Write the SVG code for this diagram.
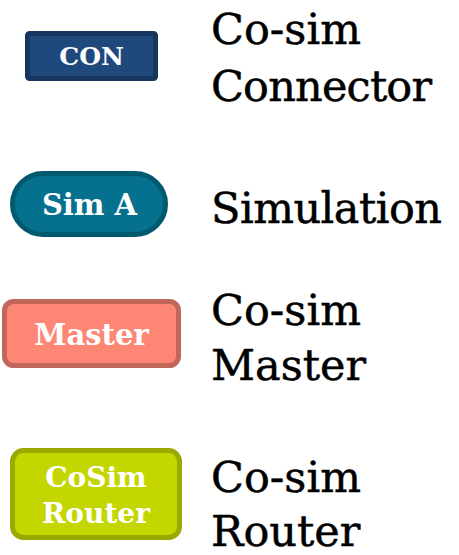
<svg xmlns="http://www.w3.org/2000/svg" width="459" height="555" viewBox="0 0 459 555">
<style>
.nt{font-family:"DejaVu Serif","Liberation Serif",serif;font-weight:bold;fill:#ffffff;text-anchor:middle}
.lb{font-family:"DejaVu Serif","Liberation Serif",serif;font-size:43px;fill:#000000;stroke:#000000;stroke-width:0.5}
</style>
<rect width="459" height="555" fill="#ffffff"/>
<g id="con">
<rect x="27.5" y="33.5" width="128" height="45" rx="2" fill="#1f497d" stroke="#17365d" stroke-width="5"/>
<text class="nt" x="91.5" y="65" font-size="25">CON</text>
</g>
<g id="sim">
<rect x="12.5" y="173.5" width="153" height="61" rx="30.5" fill="#05718e" stroke="#00596e" stroke-width="5"/>
<text class="nt" x="89.5" y="215" font-size="29">Sim A</text>
</g>
<g id="master">
<rect x="4.5" y="301.5" width="174" height="64" rx="9" fill="#fe8674" stroke="#c0665a" stroke-width="5"/>
<text class="nt" x="91.5" y="345" font-size="29">Master</text>
</g>
<g id="router">
<rect x="12.5" y="450.5" width="167" height="87" rx="11" fill="#c4d600" stroke="#9aa800" stroke-width="5"/>
<text class="nt" x="96" y="487" font-size="28">CoSim</text>
<text class="nt" x="96" y="523" font-size="28">Router</text>
</g>
<g id="labels">
<text class="lb" x="211" y="44">Co-sim</text>
<text class="lb" x="211" y="101" textLength="221">Connector</text>
<text class="lb" x="211" y="223" textLength="231">Simulation</text>
<text class="lb" x="211" y="325">Co-sim</text>
<text class="lb" x="211" y="380">Master</text>
<text class="lb" x="211" y="492">Co-sim</text>
<text class="lb" x="211" y="546">Router</text>
</g>
<g id="connectors"></g>
</svg>
